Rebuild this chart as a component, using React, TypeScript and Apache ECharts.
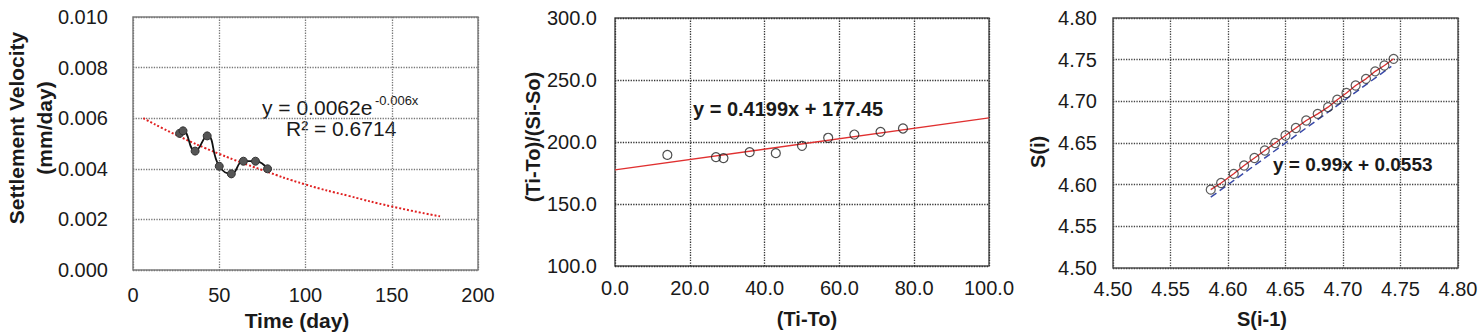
import React, { useEffect, useRef } from "react";
import * as echarts from "echarts";

// Chart 1: settlement velocity
const velTime = [27, 29, 36, 43, 50, 57, 64, 71, 78];
const velValue = [0.0054, 0.0055, 0.0047, 0.0053, 0.0041, 0.0038, 0.0043, 0.0043, 0.004];
const velTrendTime = [6, 25, 50, 75, 100, 125, 150, 178];
const velTrendValue = [0.006, 0.00534, 0.00459, 0.00395, 0.00338, 0.00293, 0.00251, 0.00212];

// Chart 2: hyperbolic method
const hypX = [14, 27, 29, 36, 43, 50, 57, 64, 71, 77];
const hypY = [189.6, 187.8, 187.0, 191.8, 191.0, 196.9, 203.4, 206.0, 208.2, 210.9];
const hypFitX = [0, 100];
const hypFitY = [177.45, 219.4];

// Chart 3: Asaoka method
const asaPrev = [4.585, 4.594, 4.605, 4.614, 4.623, 4.632, 4.641, 4.65, 4.659, 4.668, 4.678, 4.687, 4.695, 4.703, 4.711, 4.72, 4.728, 4.736, 4.744];
const asaCurr = [4.594, 4.602, 4.613, 4.623, 4.632, 4.641, 4.65, 4.659, 4.668, 4.677, 4.685, 4.693, 4.702, 4.71, 4.719, 4.727, 4.736, 4.743, 4.751];
const asaEqualLine = [4.585, 4.742];

const FONT = "'Liberation Sans', Arial, sans-serif";

function pairs(xs: number[], ys: number[]) {
  return xs.map((x, i) => [x, ys[i]]);
}

export default function App() {
  const ref = useRef<HTMLDivElement>(null);
  useEffect(() => {
    if (!ref.current) return;
    const chart = echarts.init(ref.current, undefined, { renderer: "svg" });

    const tickLabel = (fmt: (v: number) => string, margin: number) => ({
      color: "#1a1a1a",
      fontSize: 20,
      fontFamily: FONT,
      margin,
      formatter: fmt,
    });
    const split = (color: string) => ({
      show: true,
      lineStyle: { type: "dotted" as const, color, width: 1.3 },
    });
    const common = {
      axisTick: { show: false },
      axisLine: { show: false },
    };

    const titleText = (x: number, y: number, text: string, size: number, rotate = false, lineHeight?: number) => ({
      type: "text",
      x,
      y,
      rotation: rotate ? Math.PI / 2 : 0,
      style: {
        text,
        fontSize: size,
        fontWeight: "bold",
        fontFamily: FONT,
        fill: "#1a1a1a",
        align: "center",
        verticalAlign: "middle",
        lineHeight: lineHeight,
      },
    });
    const plainText = (x: number, y: number, text: string, size: number, bold = false) => ({
      type: "text",
      x,
      y,
      style: {
        text,
        fontSize: size,
        fontWeight: bold ? "bold" : "normal",
        fontFamily: FONT,
        fill: "#1a1a1a",
        align: "left",
        verticalAlign: "middle",
      },
    });

    chart.setOption({
      animation: false,
      backgroundColor: "#ffffff",
      grid: [
        { left: 133, top: 17, width: 345, height: 253, show: true, borderColor: "#808080", borderWidth: 1.5 },
        { left: 615, top: 18, width: 374, height: 248, show: true, borderColor: "#555555", borderWidth: 1.5 },
        { left: 1113, top: 18, width: 345, height: 250, show: true, borderColor: "#555555", borderWidth: 1.5 },
      ],
      xAxis: [
        { ...common, type: "value", gridIndex: 0, min: 0, max: 200, interval: 50, splitLine: split("#777777"), axisLabel: tickLabel((v) => String(v), 15) },
        { ...common, type: "value", gridIndex: 1, min: 0, max: 100, interval: 20, splitLine: split("#333333"), axisLabel: tickLabel((v) => v.toFixed(1), 12) },
        { ...common, type: "value", gridIndex: 2, min: 4.5, max: 4.8, interval: 0.05, splitLine: split("#444444"), axisLabel: tickLabel((v) => v.toFixed(2), 11) },
      ],
      yAxis: [
        { ...common, type: "value", gridIndex: 0, min: 0, max: 0.01, interval: 0.002, splitLine: split("#777777"), axisLabel: tickLabel((v) => v.toFixed(3), 25) },
        { ...common, type: "value", gridIndex: 1, min: 100, max: 300, interval: 50, splitLine: split("#333333"), axisLabel: tickLabel((v) => v.toFixed(1), 18) },
        { ...common, type: "value", gridIndex: 2, min: 4.5, max: 4.8, interval: 0.05, splitLine: split("#444444"), axisLabel: tickLabel((v) => v.toFixed(2), 16) },
      ],
      series: [
        {
          type: "line",
          xAxisIndex: 0,
          yAxisIndex: 0,
          data: pairs(velTrendTime, velTrendValue),
          smooth: true,
          showSymbol: false,
          symbol: "none",
          lineStyle: { color: "#e02020", width: 2, type: "dotted" },
          z: 2,
        },
        {
          type: "line",
          xAxisIndex: 0,
          yAxisIndex: 0,
          data: pairs(velTime, velValue),
          smooth: 0.5,
          symbol: "circle",
          symbolSize: 8,
          itemStyle: { color: "#555555", borderColor: "#333333", borderWidth: 1 },
          lineStyle: { color: "#111111", width: 1.8 },
          z: 3,
        },
        {
          type: "line",
          xAxisIndex: 1,
          yAxisIndex: 1,
          data: pairs(hypFitX, hypFitY),
          symbol: "none",
          lineStyle: { color: "#e03030", width: 1.3 },
          z: 2,
        },
        {
          type: "scatter",
          xAxisIndex: 1,
          yAxisIndex: 1,
          data: pairs(hypX, hypY),
          symbol: "circle",
          symbolSize: 9,
          itemStyle: { color: "rgba(255,255,255,0)", borderColor: "#222222", borderWidth: 1.2 },
          z: 3,
        },
        {
          type: "line",
          xAxisIndex: 2,
          yAxisIndex: 2,
          data: pairs(asaEqualLine, asaEqualLine),
          symbol: "none",
          lineStyle: { color: "#3a4aa8", width: 1.5, type: [7, 4] },
          z: 2,
        },
        {
          type: "line",
          xAxisIndex: 2,
          yAxisIndex: 2,
          data: pairs(asaPrev, asaCurr),
          symbol: "none",
          lineStyle: { color: "#d83030", width: 1.3 },
          z: 3,
        },
        {
          type: "scatter",
          xAxisIndex: 2,
          yAxisIndex: 2,
          data: pairs(asaPrev, asaCurr),
          symbol: "circle",
          symbolSize: 9,
          itemStyle: { color: "rgba(255,255,255,0)", borderColor: "#333333", borderWidth: 1.2 },
          z: 4,
        },
      ],
      graphic: [
        titleText(30, 128, "Settlement Velocity\n(mm/day)", 21, true, 28),
        titleText(297, 320, "Time (day)", 21),
        titleText(533, 137, "(Ti-To)/(Si-So)", 20, true),
        titleText(807, 319, "(Ti-To)", 20),
        titleText(1038, 152, "S(i)", 20, true),
        titleText(1262, 319, "S(i-1)", 20),
        plainText(262, 107, "y = 0.0062e", 21),
        plainText(375, 100, "-0.006x", 13),
        plainText(286, 128, "R² = 0.6714", 21),
        plainText(693, 109, "y = 0.4199x + 177.45", 20, true),
        plainText(1273, 164, "y = 0.99x + 0.0553", 19, true),
      ],
    });
    return () => chart.dispose();
  }, []);
  return (
    <div
      ref={ref}
      style={{ position: "absolute", left: 0, top: 0, width: 1482, height: 335, background: "#fff" }}
    />
  );
}
